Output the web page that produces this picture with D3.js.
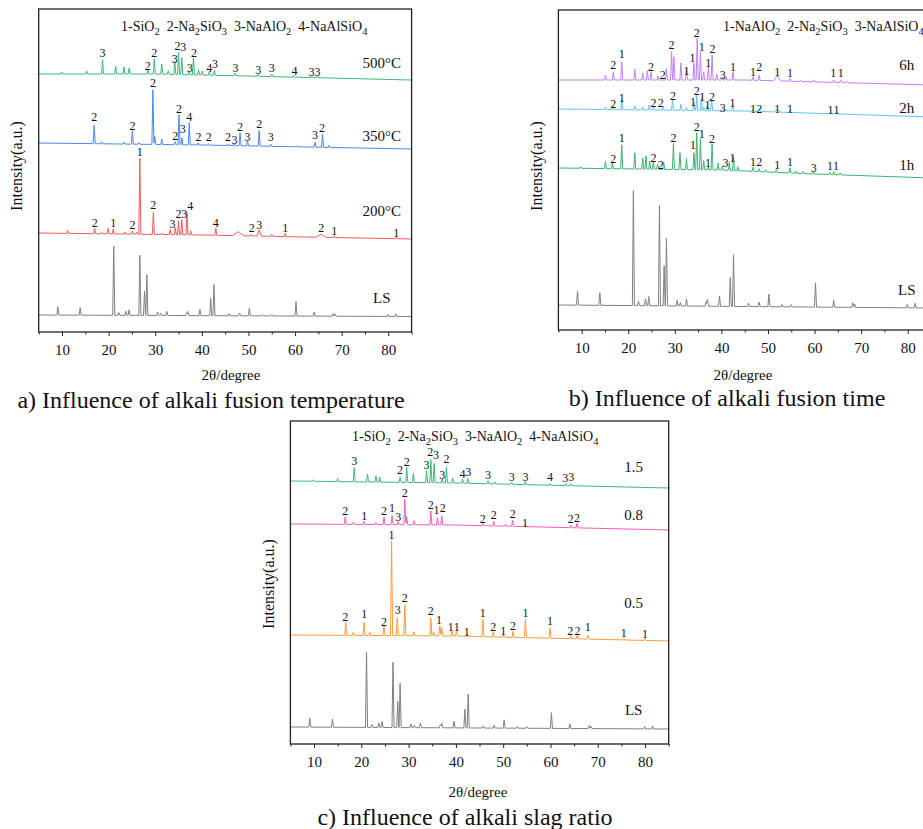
<!DOCTYPE html>
<html>
<head>
<meta charset="utf-8">
<script src="https://cdn.jsdelivr.net/npm/d3@7"></script>
<style>
  body { margin: 0; background: #fff; }
  svg { display: block; }
  text { font-family: 'Liberation Serif', 'Times New Roman', serif; fill: #111; }
</style>
</head>
<body>
<div id="chart"></div>
<script>
// 2θ ticks, shared by the three panels
const majorTicks = [10, 20, 30, 40, 50, 60, 70, 80];
const minorTicks = [5, 15, 25, 35, 45, 55, 65, 75, 85];

// raw slag (LS), [2θ, relative intensity], same sample in all panels
const lsPeaks = [[9.1,12],[13.9,11],[21.1,100],[22.2,4],[23.7,6],[24.4,8],[26.7,87],[27.7,35],[28.2,59],[30.5,5],[31.2,3],[32.5,6],[36.7,4],[37.0,6],[39.6,9],[41.9,25],[42.6,45],[45.8,3],[48.1,4],[50.2,11],[53.0,2],[55.0,2],[60.2,21],[64.1,6],[68.2,4],[68.6,3],[79.9,3],[81.6,4]];

// ---- a) alkali fusion temperature ----  [2θ, a.u.] baselines, [2θ, height, width] peaks, [2θ, phase, a.u.] tags
const a500Base = [[5,258],[30,258],[50,256],[85,252]];
const a500Peaks = [[9.9,2],[15.3,3],[18.7,14],[21.5,8],[23.3,7],[24.4,6],[28.4,5],[29.8,15],[31.4,10],[32.8,3.5],[34.2,13],[35.0,22],[35.7,17],[37.3,3.5],[38.2,17],[39.3,5],[40.1,4],[41.6,4],[42.7,5],[47.1,2.5],[52.1,2],[55.0,2.5],[59.8,1.5],[63.6,1.5],[64.7,1.5]];
const a500Tags = [[18.7,"3",279],[28.4,"2",266],[29.8,"2",279],[34.2,"3",273],[34.8,"2",286],[36.0,"3",285],[37.4,"3",264],[38.3,"2",279],[41.6,"4",264],[42.8,"3",268],[47.2,"3",264],[52.1,"3",262],[55.0,"3",264],[59.9,"4",261],[63.5,"3",260],[64.8,"3",260]];

const a350Base = [[5,189],[40,187],[85,183]];
const a350Peaks = [[16.9,18.5],[18.5,2],[23.3,2],[25.1,13.5],[26.5,1.5],[29.5,54.5],[29.9,8],[31.4,5.5],[34.3,3],[35.1,30],[35.7,7],[37.3,22],[39.2,2],[41.4,1.5],[45.7,1.5],[46.9,2],[48.2,13],[49.8,5],[52.3,15.5],[54.8,2],[60.4,1],[64.3,5],[65.9,13],[67.3,2]];
const a350Tags = [[16.9,"2",215],[25.1,"2",206],[29.5,"2",249],[34.3,"2",196],[35.1,"2",223],[35.9,"3",203],[37.3,"4",215],[39.3,"2",195],[41.5,"2",195],[45.6,"2",195],[47.0,"3",192],[48.2,"2",205],[49.8,"3",195],[52.3,"2",208],[54.8,"3",195],[64.3,"3",197],[65.8,"2",204]];

const a200Base = [[5,99],[40,97],[85,93]];
const a200Peaks = [[11.2,3],[17.0,5.5],[18.5,1.5],[19.9,5.5],[21.0,5],[23.5,2],[25.1,3],[26.0,2],[26.7,76],[29.6,22],[31.4,1.5],[33.2,5],[34.3,7],[35.0,14],[35.7,15],[36.8,22.5],[37.6,4],[43.0,7],[47.8,4,1.2],[50.6,1.5],[52.3,6,0.5],[55.0,2],[57.9,3],[65.6,3,1.2],[68.4,1.5],[81.7,1.5]];
const a200Tags = [[17.0,"2",109],[21.0,"1",109],[25.1,"2",107],[26.7,"1",180],[29.6,"2",127],[33.7,"3",108],[35.0,"2",118],[36.2,"3",118],[37.5,"4",126],[43.0,"4",109],[50.7,"2",104],[52.3,"3",107],[57.9,"1",104],[65.6,"2",104],[68.4,"1",101],[81.7,"1",99]];

const aLSBase = [[5,17],[85,15.5]];
const aLSScale = 0.69;

// ---- b) alkali fusion time ----
const b6hBase = [[5,250],[45,250],[85,245]];
const b6hPeaks = [[15.1,5],[16.8,8.3],[18.6,18.3],[21.4,11],[23.1,7],[24.1,9.3],[24.9,8.3],[26.4,4],[28.2,12],[29.3,28.3],[29.8,23.3],[31.3,17],[32.5,11],[34.1,17],[34.8,41.7],[35.5,28.3],[36.2,8.3],[37.2,13.3],[38.0,25],[39.0,6],[40.3,3],[41.0,3],[42.5,8.3],[46.8,3.3],[48.1,5],[52.0,5,0.8],[54.7,3],[57.0,1.5],[59.8,2],[64.1,2.5],[65.6,2.5],[67.0,1.5]];
const b6hTags = [[16.8,"2",265],[18.6,"1",276],[24.9,"2",263],[27.4,"2",255],[29.3,"2",285],[32.5,"1",259],[33.8,"1",272],[34.7,"2",297],[35.8,"1",283],[37.2,"1",267],[38.1,"2",281],[40.3,"3",255],[42.5,"1",263],[46.8,"1",258],[48.1,"2",263],[52.0,"1",258],[54.7,"1",257],[64.0,"1",257],[65.6,"1",257]];

const b2hBase = [[5,221],[45,219],[85,213]];
const b2hPeaks = [[15.1,2],[16.8,4],[18.6,10],[21.4,4],[23.1,3],[24.5,5],[25.4,3],[27.5,3],[29.5,10],[31.3,6],[32.5,3],[34.1,8],[34.7,15],[35.7,13],[36.2,3],[37.0,5],[37.9,12],[40.3,2],[42.4,5],[46.8,2],[48.1,3],[52.0,2.5,0.8],[54.7,2],[63.4,1.5],[64.7,2]];
const b2hTags = [[16.8,"2",226],[18.6,"1",232],[25.4,"2",227],[27.0,"2",227],[29.6,"2",234],[33.9,"1",228],[34.7,"2",239],[35.9,"1",233],[37.0,"1",225],[38.0,"2",233],[40.3,"3",222],[42.4,"1",227],[46.8,"1",221],[48.1,"2",221],[52.0,"1",221],[54.7,"1",221],[63.4,"1",220],[64.7,"1",220]];

const b1hBase = [[5,162],[40,160],[60,156],[85,152]];
const b1hPeaks = [[9.8,1.5],[15.1,7],[16.6,6],[18.6,24],[21.4,16],[23.1,11],[23.8,13],[24.6,8],[25.4,7],[26.3,5],[27.6,7],[29.7,26],[31.1,17],[32.5,11],[34.1,17],[34.7,37],[35.5,31],[36.2,9],[37.2,3],[38.0,26],[39.3,7],[40.2,4],[41.7,8],[42.6,14],[43.5,4],[46.8,4],[48.1,3],[49.5,2],[51.8,3],[54.7,5],[56.0,2],[57.5,2],[59.8,2],[63.3,2],[64.1,3],[65.5,2]];
const b1hTags = [[16.8,"2",171],[18.6,"1",192],[25.4,"2",172],[27.0,"2",165],[29.7,"2",192],[33.9,"1",185],[34.7,"2",203],[35.8,"1",196],[37.1,"1",167],[38.0,"2",191],[40.9,"3",167],[42.4,"1",172],[46.8,"1",168],[48.1,"2",168],[52.0,"1",165],[54.7,"1",168],[59.8,"3",162],[63.3,"1",164],[64.6,"1",164]];

const bLSBase = [[5,25],[85,22]];
const bLSScale = 1.15;

// ---- c) alkali slag ratio ----
const c15Base = [[5,263],[40,261],[85,256]];
const c15Peaks = [[9.7,1.5],[15.0,3],[18.5,14],[21.3,8],[23.1,6],[23.9,5],[28.2,5],[29.6,15],[31.0,9],[33.8,12],[34.7,23],[35.4,19],[37.1,4],[38.0,16],[39.3,5],[41.4,4],[42.5,5],[46.8,3],[48.2,2],[51.8,2],[54.7,3],[59.9,1.5],[63.3,2],[64.3,2]];
const c15Tags = [[18.5,"3",283],[28.2,"2",274],[29.6,"2",282],[33.8,"3",279],[34.6,"2",292],[35.8,"3",289],[37.1,"3",269],[38.0,"2",285],[41.4,"4",270],[42.6,"3",272],[46.8,"3",269],[51.8,"3",267],[54.7,"3",267],[59.9,"4",267],[63.1,"3",266],[64.4,"3",267]];

const c08Base = [[5,220],[40,219],[85,214]];
const c08Peaks = [[16.6,7.5],[18.3,2],[20.6,3],[23.1,2],[24.8,7.5],[26.5,9],[27.8,3],[29.2,25.5],[29.6,8],[31.2,4],[34.7,14],[36.1,7],[37.0,9],[45.7,2],[48.0,4.5],[50.5,2],[52.0,6],[54.6,1.5],[64.3,2.5],[65.6,4.5]];
const c08Tags = [[16.6,"2",233],[20.6,"1",228],[24.8,"2",233],[26.5,"1",236],[27.8,"3",227],[29.2,"2",251],[34.7,"2",239],[35.9,"1",234],[37.2,"2",236],[45.7,"2",225],[48.0,"2",229],[52.0,"2",230],[54.6,"1",221],[64.3,"2",225],[65.6,"2",226]];

const c05Base = [[5,109],[40,108],[85,103]];
const c05Peaks = [[16.7,13],[18.3,3],[20.6,13],[21.8,3],[24.8,10],[26.4,95],[27.6,18],[29.2,30.7],[31.1,4],[34.7,18],[35.3,4],[36.6,10],[37.0,8],[39.2,5],[40.1,5],[42.3,2],[45.7,17],[47.9,5],[50.0,2],[52.1,6],[54.7,18],[59.9,10],[64.3,3],[65.7,5],[67.9,4],[75.5,1.5],[80.0,1.5]];
const c05Tags = [[16.6,"2",127],[20.6,"1",130],[24.8,"2",122],[26.4,"1",209],[27.7,"3",134],[29.2,"2",146],[34.7,"2",133],[36.4,"1",124],[38.9,"1",117],[40.2,"1",117],[42.3,"1",112],[45.7,"1",131],[47.9,"2",117],[50.0,"1",113],[52.1,"2",118],[54.7,"1",131],[59.9,"1",123],[64.2,"2",113],[65.7,"2",113],[67.9,"1",117],[75.5,"1",111],[80.0,"1",110]];

const cLSBase = [[5,17],[85,15]];
const cLSScale = 0.75;

// phase legends, "_" marks a subscript, "+" a new item after a gap
const legendA = ["1-SiO","_2","+2-Na","_2","SiO","_3","+3-NaAlO","_2","+4-NaAlSiO","_4"];
const legendB = ["1-NaAlO","_2","+2-Na","_2","SiO","_3","+3-NaAlSiO","_4"];

const width = 923, height = 829;
const svg = d3.select("#chart").append("svg")
  .attr("width", width).attr("height", height);

const panels = [
  { left: 38.7, right: 411.6, top: 9, bottom: 332, yMax: 323,
    caption: "a) Influence of alkali fusion temperature", capX: 211, capY: 408,
    xtitleX: 231, xtitleY: 375, ylabX: 16, ylabY: 166,
    legend: legendA, legX: 121, legY: 31, nameX: 78.6,
    traces: [
      { name: "500°C", base: a500Base, peaks: a500Peaks, tags: a500Tags, color: "#3cb878", nameY: 269 },
      { name: "350°C", base: a350Base, peaks: a350Peaks, tags: a350Tags, color: "#4a88e8", nameY: 196 },
      { name: "200°C", base: a200Base, peaks: a200Peaks, tags: a200Tags, color: "#f25a5a", nameY: 121 },
      { name: "LS", base: aLSBase, peaks: lsPeaks, k: aLSScale, tags: [], color: "#808080", nameY: 34 }
    ] },
  { left: 558.4, right: 931, top: 10, bottom: 330, yMax: 320,
    caption: "b) Influence of alkali fusion time", capX: 727, capY: 406,
    xtitleX: 743, xtitleY: 375, ylabX: 536, ylabY: 166,
    legend: legendB, legX: 723, legY: 31, nameX: 79.8,
    traces: [
      { name: "6h", base: b6hBase, peaks: b6hPeaks, tags: b6hTags, color: "#c47ff0", nameY: 265 },
      { name: "2h", base: b2hBase, peaks: b2hPeaks, tags: b2hTags, color: "#5ec4f0", nameY: 222 },
      { name: "1h", base: b1hBase, peaks: b1hPeaks, tags: b1hTags, color: "#3cb371", nameY: 165 },
      { name: "LS", base: bLSBase, peaks: lsPeaks, k: bLSScale, tags: [], color: "#808080", nameY: 40 }
    ] },
  { left: 290.4, right: 668.7, top: 421, bottom: 744, yMax: 323,
    caption: "c) Influence of alkali slag ratio", capX: 465, capY: 825,
    xtitleX: 478, xtitleY: 792, ylabX: 268, ylabY: 584,
    legend: legendA, legX: 352, legY: 441, nameX: 77.6,
    traces: [
      { name: "1.5", base: c15Base, peaks: c15Peaks, tags: c15Tags, color: "#3cb878", nameY: 277 },
      { name: "0.8", base: c08Base, peaks: c08Peaks, tags: c08Tags, color: "#f25cc0", nameY: 229 },
      { name: "0.5", base: c05Base, peaks: c05Peaks, tags: c05Tags, color: "#ff9a3c", nameY: 141 },
      { name: "LS", base: cLSBase, peaks: lsPeaks, k: cLSScale, tags: [], color: "#808080", nameY: 34 }
    ] }
];

// pattern = baseline + narrow triangular reflections, vertices only where the shape changes
function pattern(base, peaks, k) {
  k = k || 1;
  let baseAt = d3.scaleLinear().domain(base.map(d => d[0])).range(base.map(d => d[1]));
  let xs = base.map(d => d[0]);
  peaks.forEach(p => { let w = p[2] || 0.22; xs.push(p[0] - w, p[0], p[0] + w); });
  xs = Array.from(new Set(xs)).sort((a, b) => a - b);
  return xs.map(x => {
    let y = baseAt(x);
    peaks.forEach(p => {
      let w = p[2] || 0.22;
      let t = 1 - Math.abs(x - p[0]) / w;
      if (t > 0) y += p[1] * k * t;
    });
    return [x, y];
  });
}

function formula(g, parts, x, y, size) {
  let t = g.append("text").attr("x", x).attr("y", y)
    .style("font-size", size + "px");
  let sub = false;
  parts.forEach(p => {
    if (p[0] === "_") {
      t.append("tspan").attr("dy", 4).style("font-size", (size * 0.75) + "px").text(p.slice(1));
      sub = true;
    } else {
      let gap = p[0] === "+";
      t.append("tspan").attr("dy", sub ? -4 : 0).attr("dx", gap ? 7 : 0).text(gap ? p.slice(1) : p);
      sub = false;
    }
  });
}

panels.forEach(p => {
  let x = d3.scaleLinear().domain([5, 85]).range([p.left, p.right]);
  let y = d3.scaleLinear().domain([0, p.yMax]).range([p.bottom, p.top]);
  let g = svg.append("g");

  let line = d3.line().x(d => x(d[0])).y(d => y(d[1]));
  p.traces.forEach(t => {
    g.append("path")
      .datum(pattern(t.base, t.peaks, t.k))
      .attr("d", line)
      .attr("fill", "none")
      .attr("stroke", t.color)
      .attr("stroke-width", 1)
      .attr("stroke-linejoin", "round");

    g.selectAll(null)
      .data(t.tags)
      .enter()
      .append("text")
      .attr("x", d => x(d[0]))
      .attr("y", d => y(d[2]))
      .attr("dy", "0.35em")
      .attr("text-anchor", "middle")
      .style("font-size", "12px")
      .text(d => d[1]);

    g.append("text")
      .attr("x", x(p.nameX))
      .attr("y", y(t.nameY))
      .attr("dy", "0.35em")
      .attr("text-anchor", "middle")
      .style("font-size", "15px")
      .text(t.name);
  });

  // frame
  g.append("rect")
    .attr("x", x(5)).attr("y", p.top)
    .attr("width", x(85) - x(5)).attr("height", p.bottom - p.top)
    .attr("fill", "none").attr("stroke", "#222").attr("stroke-width", 1.3);

  let ax = g.append("g")
    .attr("transform", "translate(0," + p.bottom + ")")
    .call(d3.axisBottom(x).tickValues(majorTicks).tickSize(4).tickPadding(8).tickFormat(d3.format("d")));
  ax.select(".domain").remove();
  ax.selectAll("text").style("font-size", "15px").style("font-family", "'Liberation Serif', serif");
  ax.selectAll("line").attr("stroke", "#222");

  let mx = g.append("g")
    .attr("transform", "translate(0," + p.bottom + ")")
    .call(d3.axisBottom(x).tickValues(minorTicks).tickSize(2.5).tickFormat(""));
  mx.select(".domain").remove();
  mx.selectAll("line").attr("stroke", "#222");

  g.append("text")
    .attr("x", p.xtitleX).attr("y", p.xtitleY).attr("dy", "0.35em")
    .attr("text-anchor", "middle").style("font-size", "15px")
    .text("2θ/degree");

  g.append("text")
    .attr("transform", "translate(" + p.ylabX + "," + p.ylabY + ") rotate(-90)")
    .attr("dy", "0.35em")
    .attr("text-anchor", "middle").style("font-size", "16px")
    .text("Intensity(a.u.)");

  g.append("text")
    .attr("x", p.capX).attr("y", p.capY)
    .attr("text-anchor", "middle").style("font-size", "24px")
    .text(p.caption);

  formula(g, p.legend, p.legX, p.legY, 14);
});
</script>
</body>
</html>
